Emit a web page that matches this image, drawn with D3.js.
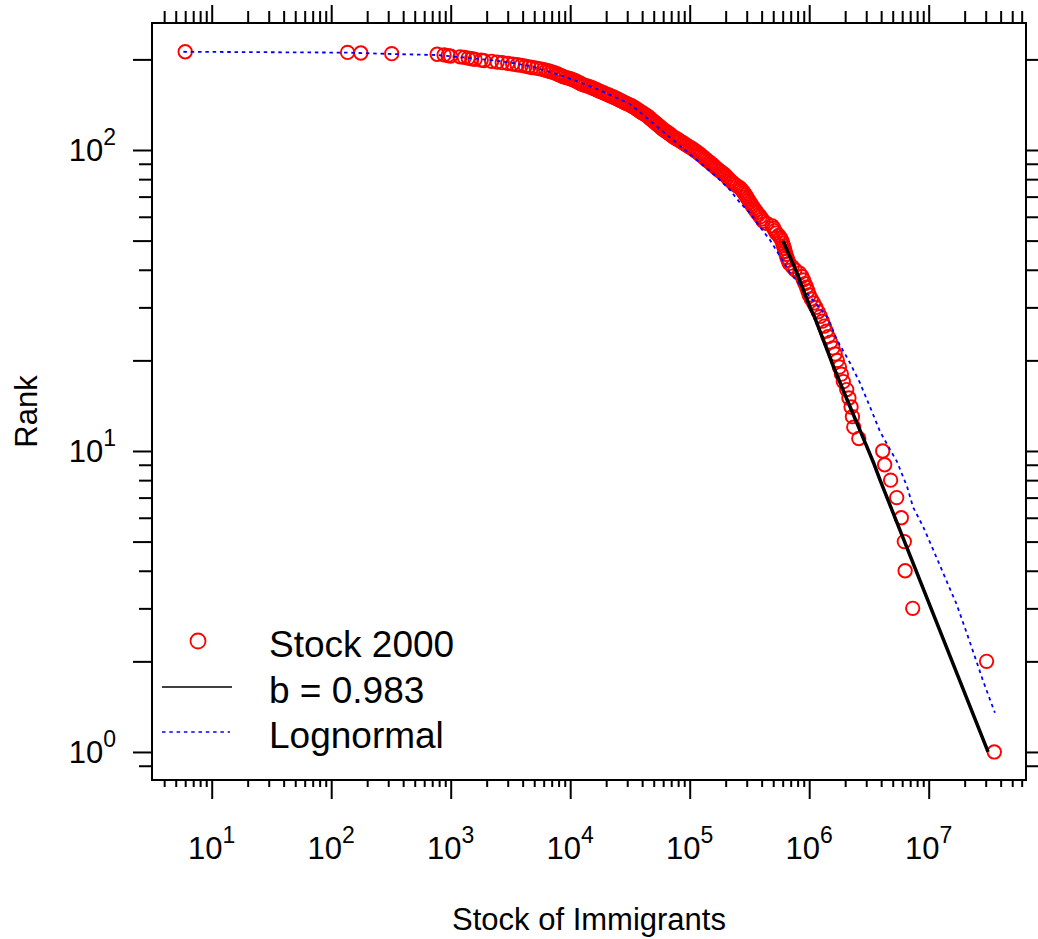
<!DOCTYPE html>
<html>
<head>
<meta charset="UTF-8">
<script src="https://d3js.org/d3.v7.min.js"></script>
<style>
    body { margin: 0; background: #fff; }
    svg text { font-family: "Liberation Sans", Arial, Helvetica, sans-serif; fill: #000; }
</style>
</head>
<body>
<svg width="1038" height="939"></svg>
<script>
// stock of immigrants in 2000, ordered by rank (rank = index + 1)
var stock = [
    35400000, 30500000, 7350000, 6350000, 6250000, 5900000, 5400000, 4800000, 4280000, 4120000,
    2600000, 2360000, 2300000, 2240000, 2150000, 2060000, 1930000, 1860000, 1790000, 1720000,
    1650000, 1580000, 1510000, 1440000, 1390000, 1340000, 1290000, 1240000, 1190000, 1140000,
    1090000, 1040000, 1000000, 975000, 950000, 920000, 895000, 870000, 830000, 760000,
    720000, 680000, 665000, 650000, 640000, 630000, 620000, 610000, 600000, 590000,
    575000, 555000, 530000, 515000, 505000, 490000, 440000, 412000, 402000, 390000,
    378000, 365000, 355000, 345000, 336000, 328000, 320000, 312000, 305000, 298000,
    292000, 285000, 278000, 270000, 262000, 248000, 237000, 228000, 220000, 213000,
    207000, 201000, 195000, 188000, 180000, 173000, 167000, 162000, 157000, 152000,
    147000, 142000, 137000, 133000, 129000, 125000, 121000, 117000, 113000, 109000,
    105000, 101000, 97000, 93500, 90000, 87000, 83500, 80500, 77500, 74500,
    72000, 70000, 68000, 66000, 64000, 62000, 60000, 58500, 57000, 55800,
    54400, 53000, 51800, 50500, 49300, 48200, 47000, 46000, 44900, 43800,
    42500, 41200, 40000, 38800, 37800, 36800, 35800, 34800, 33800, 32800,
    31700, 30500, 29300, 28200, 27300, 26400, 25500, 24600, 23800, 22900,
    22000, 21200, 20400, 19600, 18900, 18200, 17500, 16900, 16400, 15800,
    15200, 14600, 14000, 13300, 12800, 12300, 12000, 11600, 11300, 11000,
    10600, 10200, 9800, 9300, 8800, 8600, 8300, 8000, 7800, 7500,
    7200, 6900, 6600, 6300, 6000, 5600, 5200, 4800, 4500, 4200,
    3900, 3600, 3300, 3000, 2700, 2450, 2200, 1900, 1800, 1600,
    1500, 1400, 1300, 1200, 1000, 950, 880, 770, 321, 177,
    137, 6
];

// lognormal fit (blue dotted)
var lognormX = [5.8, 137, 321, 767, 1449, 2588, 4610, 8710, 16760, 31600,
    43800, 72500, 115000, 169000, 217000, 264000, 320000, 387000, 470000, 570000,
    692000, 1017000, 1410000, 1710000, 2197000, 2666000, 3230000, 3918000, 4752000, 5440000,
    6600000, 7410000, 8990000, 10900000, 14100000, 17100000, 20700000, 25100000, 28400000, 35800000];
var lognormRank = [212, 210.6, 208.4, 206.8, 202.1, 197.5, 190.2, 176.1, 159.5, 142.2,
    127.7, 108.0, 92.6, 81.3, 73.7, 66.7, 61.8, 55.5, 50.2, 44.4,
    39.0, 32.5, 27.9, 23.4, 19.6, 16.8, 14.0, 11.6, 10.1, 9.2,
    7.6, 6.5, 5.6, 4.7, 3.7, 3.1, 2.5, 2.0, 1.73, 1.35];

// power law fit on the top 50 (black)
var fitX = [604000, 792000, 1038000, 1100000, 1585000, 2076000, 3110000, 3490000, 3920000, 31400000];
var fitRank = [49.9, 39.0, 29.4, 28.1, 19.2, 14.8, 10.1, 9.05, 8.0, 1.0];

var xMajor = [1e1, 1e2, 1e3, 1e4, 1e5, 1e6, 1e7];
var xExp = ["1", "2", "3", "4", "5", "6", "7"];
var yMajor = [1, 10, 100];
var yExp = ["0", "1", "2"];
var legendLabels = ["Stock 2000", "b = 0.983", "Lognormal"];

var svg = d3.select("svg");
var pLeft = 152, pRight = 1026, pTop = 23, pBottom = 780;

var x = d3.scaleLog().domain([3.165, 6.52e7]).range([pLeft, pRight]);
var y = d3.scaleLog().domain([0.807, 264.2]).range([pBottom, pTop]);

// tick positions
var xMinor = [];
for (var e = 0; e <= 7; e++) {
    for (var m = 2; m <= 9; m++) {
        var v = m * Math.pow(10, e);
        if (v >= x.domain()[0] && v <= x.domain()[1]) xMinor.push(v);
    }
}
var yLong = [], yShort = [];
for (var e = -1; e <= 2; e++) {
    for (var m = 1; m <= 9; m++) {
        var v = m * Math.pow(10, e);
        if (v < y.domain()[0] || v > y.domain()[1]) continue;
        if (m == 1 || m == 2 || m == 5) yLong.push(v); else yShort.push(v);
    }
}

function addAxis(axis, tr) {
    var g = svg.append("g").attr("transform", tr).call(axis.tickFormat(""));
    g.select(".domain").remove();
    g.selectAll("line").attr("stroke", "#000").attr("stroke-width", 2);
}
addAxis(d3.axisBottom(x).tickValues(xMajor).tickSize(19), "translate(0," + pBottom + ")");
addAxis(d3.axisBottom(x).tickValues(xMinor).tickSize(7), "translate(0," + pBottom + ")");
addAxis(d3.axisTop(x).tickValues(xMajor).tickSize(18), "translate(0," + pTop + ")");
addAxis(d3.axisTop(x).tickValues(xMinor).tickSize(12), "translate(0," + pTop + ")");
addAxis(d3.axisLeft(y).tickValues(yLong).tickSize(19), "translate(" + pLeft + ",0)");
addAxis(d3.axisLeft(y).tickValues(yShort).tickSize(13), "translate(" + pLeft + ",0)");
addAxis(d3.axisRight(y).tickValues(yLong).tickSize(19), "translate(" + pRight + ",0)");
addAxis(d3.axisRight(y).tickValues(yShort).tickSize(13), "translate(" + pRight + ",0)");

// tick labels 10^k
xMajor.forEach(function(v, i) {
    var t = svg.append("text").attr("x", x(v)).attr("y", 859)
        .attr("text-anchor", "middle").attr("font-size", "31px");
    t.append("tspan").text("10");
    t.append("tspan").attr("dy", -16).attr("font-size", "23px").text(xExp[i]);
});
yMajor.forEach(function(v, i) {
    var t = svg.append("text").attr("x", 116).attr("y", y(v) + 11)
        .attr("text-anchor", "end").attr("font-size", "31px");
    t.append("tspan").text("10");
    t.append("tspan").attr("dy", -16).attr("font-size", "23px").text(yExp[i]);
});

// axis titles
svg.append("text").attr("x", (pLeft + pRight) / 2).attr("y", 930)
    .attr("text-anchor", "middle").attr("font-size", "31px").text("Stock of Immigrants");
svg.append("text").attr("transform", "translate(37," + ((pTop + pBottom) / 2 + 10) + ") rotate(-90)")
    .attr("text-anchor", "middle").attr("font-size", "31px").text("Rank");

// points
svg.append("g").selectAll("circle")
    .data(stock)
    .enter()
    .append("circle")
    .attr("cx", function(d) { return x(d); })
    .attr("cy", function(d, i) { return y(i + 1); })
    .attr("r", 6.7)
    .attr("fill", "none")
    .attr("stroke", "#ff0000")
    .attr("stroke-width", 1.9);

var lognormLine = d3.line()
    .x(function(d, i) { return x(lognormX[i]); })
    .y(function(d, i) { return y(lognormRank[i]); });
svg.append("path").attr("d", lognormLine(lognormX))
    .attr("fill", "none").attr("stroke", "#0000ff")
    .attr("stroke-width", 1.8).attr("stroke-dasharray", "3.5,3.8");

var fitLine = d3.line()
    .x(function(d, i) { return x(fitX[i]); })
    .y(function(d, i) { return y(fitRank[i]); });
svg.append("path").attr("d", fitLine(fitX))
    .attr("fill", "none").attr("stroke", "#000")
    .attr("stroke-width", 3.5).attr("stroke-linejoin", "round");

// frame
svg.append("rect").attr("x", pLeft).attr("y", pTop)
    .attr("width", pRight - pLeft).attr("height", pBottom - pTop)
    .attr("fill", "none").attr("stroke", "#000").attr("stroke-width", 2);

// legend
var leg = svg.append("g");
leg.append("circle").attr("cx", 198).attr("cy", 641).attr("r", 7.5)
    .attr("fill", "none").attr("stroke", "#ff0000").attr("stroke-width", 1.8);
leg.append("line").attr("x1", 162).attr("x2", 232).attr("y1", 687).attr("y2", 687)
    .attr("stroke", "#000").attr("stroke-width", 1.6);
leg.append("line").attr("x1", 162).attr("x2", 230).attr("y1", 732).attr("y2", 732)
    .attr("stroke", "#0000ff").attr("stroke-width", 1.6).attr("stroke-dasharray", "3.5,3.8");
legendLabels.forEach(function(s, i) {
    leg.append("text").attr("x", 269).attr("y", 657 + i * 45.7)
        .attr("font-size", "37px").text(s);
});
</script>
</body>
</html>
